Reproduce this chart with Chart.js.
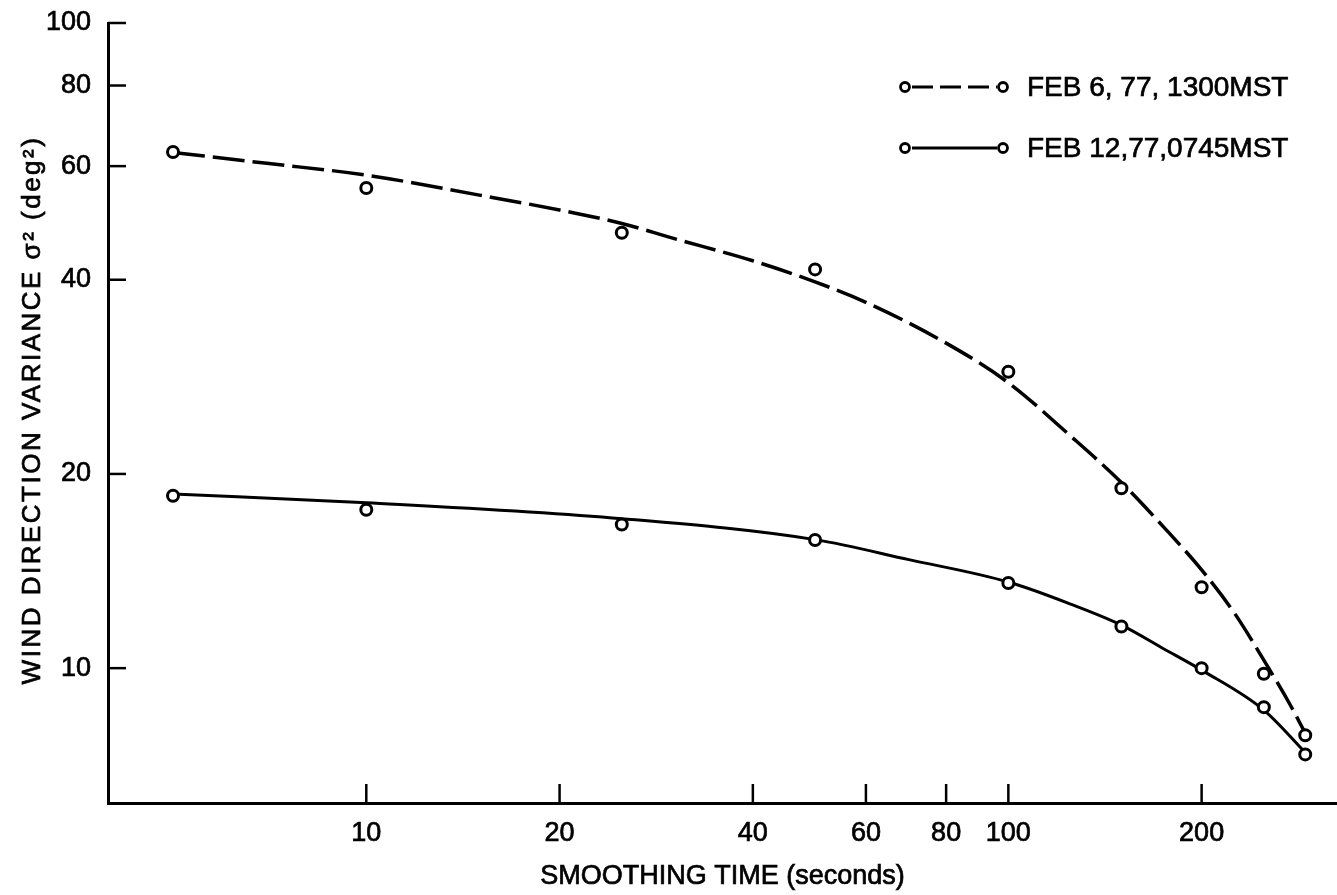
<!DOCTYPE html>
<html>
<head>
<meta charset="utf-8">
<script src="https://cdn.jsdelivr.net/npm/chart.js@4/dist/chart.umd.min.js"></script>
<style>
html,body{margin:0;padding:0;background:#fff;overflow:hidden}
#wrap{width:1337px;height:895px;position:relative}
canvas{display:block}
</style>
</head>
<body>
<div id="wrap"><canvas id="c" width="1337" height="895"></canvas></div>
<script>
// ---- data ----
const seriesNames = ['FEB 6, 77, 1300MST', 'FEB 12,77,0745MST'];
const sampleTimes = [5, 10, 25, 50, 100, 150, 200, 250, 290];
const feb6Points = [63.1, 55.5, 47.3, 41.5, 28.8, 19.0, 13.35, 9.8, 7.87];
const feb12Points = [18.5, 17.6, 16.7, 15.8, 13.55, 11.6, 10.0, 8.7, 7.35];
const feb6CurveTimes = [5, 7, 10, 15, 20, 25, 30, 40, 50, 60, 80, 100, 125, 150, 175, 200, 225, 250, 275, 290];
const feb6CurveValues = [63.0, 60.6, 58.1, 54.1, 51.3, 48.9, 46.4, 42.8, 39.7, 36.9, 31.9, 27.7, 22.9, 19.4, 16.5, 14.2, 12.17, 10.29, 8.76, 7.93];
const feb12CurveTimes = [5, 10, 25, 50, 70, 100, 125, 150, 175, 200, 250, 290];
const feb12CurveValues = [18.62, 18.05, 17.05, 15.82, 14.73, 13.6, 12.57, 11.66, 10.7, 9.93, 8.61, 7.4];
const xTickValues = [10, 20, 40, 60, 80, 100, 200];
const yTickValues = [10, 20, 40, 60, 80, 100];
const xTitle = 'SMOOTHING TIME (seconds)';
const yTitle = 'WIND DIRECTION VARIANCE \u03C3\u00B2 (deg\u00B2)';

const FONT = "'Liberation Sans', Arial, Helvetica, sans-serif";
const toXY = (xs, ys) => xs.map((x, i) => ({x: x, y: ys[i]}));

const pointStyle = {
  showLine: false,
  pointStyle: 'circle',
  pointRadius: 5.5,
  pointBorderWidth: 3,
  pointBackgroundColor: '#fff',
  pointBorderColor: '#000'
};

function inkText(c, text, x, y) {
  c.fillText(text, x, y);
  c.lineWidth = 0.7;
  c.strokeStyle = '#000';
  c.strokeText(text, x, y);
}

const inwardTicks = {
  id: 'inwardTicks',
  afterDraw(chart) {
    const c = chart.ctx, xs = chart.scales.x, ys = chart.scales.y, a = chart.chartArea;
    c.save();
    c.strokeStyle = '#000';
    c.lineWidth = 2.5;
    xs.ticks.forEach(t => {
      const px = xs.getPixelForValue(t.value);
      c.beginPath(); c.moveTo(px, a.bottom); c.lineTo(px, a.bottom - 19); c.stroke();
    });
    ys.ticks.forEach(t => {
      const py = ys.getPixelForValue(t.value);
      c.beginPath(); c.moveTo(a.left, py); c.lineTo(a.left + 18, py); c.stroke();
    });
    c.restore();
  }
};

const titlesAndLegend = {
  id: 'titlesAndLegend',
  afterDraw(chart) {
    const c = chart.ctx, a = chart.chartArea;
    c.save();
    c.fillStyle = '#000';
    // x title
    c.font = '27px ' + FONT;
    c.textAlign = 'center';
    c.textBaseline = 'middle';
    inkText(c, xTitle, (a.left + a.right) / 2, 877);
    // y title
    c.save();
    c.translate(33, 410);
    c.rotate(-Math.PI / 2);
    c.font = '26px ' + FONT;
    try { c.letterSpacing = '2.5px'; } catch (e) {}
    inkText(c, yTitle, 0, 0);
    c.restore();
    // legend
    const rows = [
      {y: 87, dash: [21, 7], width: 3, text: seriesNames[0]},
      {y: 148, dash: [], width: 3, text: seriesNames[1]}
    ];
    rows.forEach(r => {
      c.strokeStyle = '#000';
      c.lineWidth = r.width;
      c.setLineDash(r.dash);
      c.beginPath(); c.moveTo(912, r.y); c.lineTo(997, r.y); c.stroke();
      c.setLineDash([]);
      c.lineWidth = 2.8;
      [905, 1003].forEach(cx => {
        c.beginPath(); c.arc(cx, r.y, 4.5, 0, Math.PI * 2);
        c.fillStyle = '#fff'; c.fill(); c.stroke();
      });
      c.fillStyle = '#000';
      c.font = '28px ' + FONT;
      c.textAlign = 'left';
      c.textBaseline = 'middle';
      inkText(c, r.text, 1027, r.y + 1);
    });
    c.restore();
  }
};

new Chart(document.getElementById('c'), {
  type: 'scatter',
  data: {
    datasets: [
      Object.assign({label: seriesNames[0] + ' data', data: toXY(sampleTimes, feb6Points)}, pointStyle),
      Object.assign({label: seriesNames[1] + ' data', data: toXY(sampleTimes, feb12Points)}, pointStyle),
      {
        label: seriesNames[0],
        data: toXY(feb6CurveTimes, feb6CurveValues),
        showLine: true,
        borderColor: '#000',
        borderWidth: 3.5,
        borderDash: [32, 8],
        pointRadius: 0,
        cubicInterpolationMode: 'monotone'
      },
      {
        label: seriesNames[1],
        data: toXY(feb12CurveTimes, feb12CurveValues),
        showLine: true,
        borderColor: '#000',
        borderWidth: 3,
        pointRadius: 0,
        cubicInterpolationMode: 'monotone'
      }
    ]
  },
  options: {
    responsive: false,
    animation: false,
    devicePixelRatio: 1,
    layout: {autoPadding: false, padding: {top: 23, right: 0, bottom: 0, left: 0}},
    plugins: {legend: {display: false}, tooltip: {enabled: false}},
    scales: {
      x: {
        type: 'logarithmic',
        min: 3.96,
        max: 325,
        bounds: 'data',
        afterBuildTicks: s => { s.ticks = xTickValues.map(v => ({value: v})); },
        afterFit: s => { s.height = 92; },
        grid: {display: false, drawTicks: false},
        border: {display: true, color: '#000', width: 3},
        ticks: {
          autoSkip: false, maxRotation: 0, minRotation: 0, padding: 14, color: '#000',
          font: {family: FONT, size: 27},
          textStrokeColor: '#000', textStrokeWidth: 0.7,
          callback: v => String(v)
        }
      },
      y: {
        type: 'logarithmic',
        min: 6.18,
        max: 100,
        bounds: 'data',
        afterBuildTicks: s => { s.ticks = yTickValues.map(v => ({value: v})); },
        afterFit: s => { s.width = 108; s.paddingTop = 0; s.paddingBottom = 0; },
        grid: {display: false, drawTicks: false},
        border: {display: true, color: '#000', width: 3},
        ticks: {
          autoSkip: false, padding: 17, color: '#000',
          font: {family: FONT, size: 27, lineHeight: 0.7},
          textStrokeColor: '#000', textStrokeWidth: 0.7,
          callback: v => String(v)
        }
      }
    }
  },
  plugins: [inwardTicks, titlesAndLegend]
});
</script>
</body>
</html>
